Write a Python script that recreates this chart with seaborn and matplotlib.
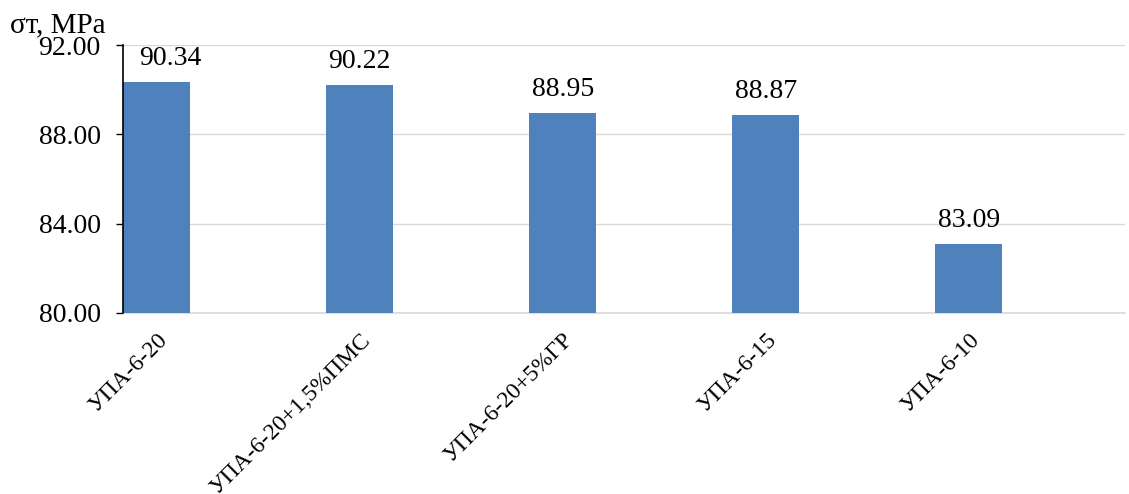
import matplotlib
matplotlib.use("Agg")
import matplotlib.pyplot as plt
import seaborn as sns
import pandas as pd

categories = ["УПА-6-20", "УПА-6-20+1,5%ПМС", "УПА-6-20+5%ГР", "УПА-6-15", "УПА-6-10"]
strength = [90.34, 90.22, 88.95, 88.87, 83.09]
y_ticks = [80.0, 84.0, 88.0, 92.0]

sns.set_theme(style="white")
plt.rcParams["font.family"] = ["Liberation Serif", "DejaVu Serif"]
plt.rcParams["text.color"] = "black"
plt.rcParams["xtick.color"] = "black"
plt.rcParams["ytick.color"] = "black"

df = pd.DataFrame({"cat": categories, "val": strength})

fig = plt.figure(figsize=(11.29, 4.94), dpi=100)
ax = fig.add_axes([0.109, 0.3664, 0.8875, 0.5425])

sns.barplot(data=df, x="cat", y="val", color="#4F81BD", saturation=1,
            width=0.33, linewidth=0, ax=ax, zorder=3)

ax.set_ylim(80, 92)
ax.set_yticks(y_ticks)
ax.set_yticklabels([f"{t:.2f}" for t in y_ticks], fontsize=20)
ax.set_xlim(-0.165, 4.77)
ax.set_xlabel("")
ax.set_ylabel("")

ax.yaxis.grid(True, color="#D9D9D9", linewidth=1, zorder=0)
ax.xaxis.grid(False)
for s in ["top", "right"]:
    ax.spines[s].set_visible(False)
ax.spines["left"].set_color("black")
ax.spines["left"].set_linewidth(1.2)
ax.spines["left"].set_zorder(5)
ax.spines["bottom"].set_color("#D9D9D9")
ax.spines["bottom"].set_linewidth(1.2)
ax.tick_params(axis="y", left=True, length=5, width=1, color="black", pad=11)
ax.tick_params(axis="x", bottom=False, pad=6)

ax.set_xticks(range(len(categories)))
ax.set_xticklabels(categories, rotation=45, ha="right", rotation_mode="anchor",
                   fontsize=17)

for c in ax.containers:
    anns = ax.bar_label(c, labels=[f"{v:.2f}" for v in strength], padding=8, fontsize=20)
    # nudge the first value label away from the y axis
    anns[0].xyann = (10, anns[0].xyann[1])

fig.text(0.009, 0.935, "σт, MPa", fontsize=21, ha="left", va="baseline")

fig.savefig("out.png", dpi=100)
